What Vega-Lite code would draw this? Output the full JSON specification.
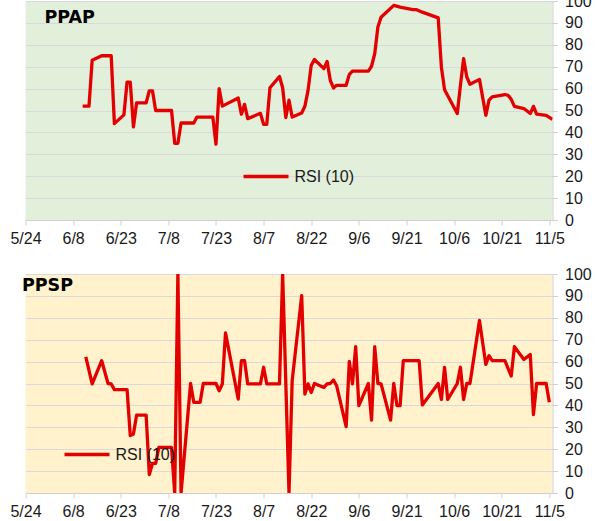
{
  "$schema": "https://vega.github.io/schema/vega-lite/v6.json",
  "padding": {"left": 9.5, "top": -7, "right": 0, "bottom": 0},
  "background": "white",
  "spacing": 54,
  "bounds": "flush",
  "resolve": {"scale": {"color": "independent"}, "legend": {"color": "independent"}},
  "config": {
    "font": "Liberation Sans",
    "view": {"stroke": null},
    "axis": {
      "labelFont": "Liberation Sans",
      "labelFontSize": 16,
      "labelColor": "#1a1a1a",
      "domainColor": "#D0D0D0",
      "tickColor": "#D0D0D0",
      "gridColor": "#D9D9D9",
      "title": null
    },
    "title": {"font": "DejaVu Sans", "fontSize": 17.5, "fontWeight": "bold", "color": "#000", "anchor": "start", "frame": "group", "baseline": "alphabetic"}
  },
  "datasets": {
    "ppap": [
      {"date": "2014-06-11", "rsi": 52}, {"date": "2014-06-13", "rsi": 52}, {"date": "2014-06-14", "rsi": 73},
      {"date": "2014-06-17", "rsi": 75}, {"date": "2014-06-20", "rsi": 75}, {"date": "2014-06-21", "rsi": 44},
      {"date": "2014-06-24", "rsi": 48}, {"date": "2014-06-25", "rsi": 63}, {"date": "2014-06-26", "rsi": 63},
      {"date": "2014-06-27", "rsi": 42.5}, {"date": "2014-06-28", "rsi": 53.5}, {"date": "2014-07-01", "rsi": 53.5},
      {"date": "2014-07-02", "rsi": 59}, {"date": "2014-07-03", "rsi": 59}, {"date": "2014-07-04", "rsi": 50},
      {"date": "2014-07-09", "rsi": 50}, {"date": "2014-07-10", "rsi": 35}, {"date": "2014-07-11", "rsi": 35},
      {"date": "2014-07-12", "rsi": 44.3}, {"date": "2014-07-16", "rsi": 44.3}, {"date": "2014-07-17", "rsi": 47},
      {"date": "2014-07-22", "rsi": 47}, {"date": "2014-07-23", "rsi": 34.6}, {"date": "2014-07-24", "rsi": 60},
      {"date": "2014-07-25", "rsi": 52}, {"date": "2014-07-30", "rsi": 55.7}, {"date": "2014-07-31", "rsi": 48.3},
      {"date": "2014-08-01", "rsi": 52.8}, {"date": "2014-08-02", "rsi": 46.3}, {"date": "2014-08-06", "rsi": 48.7},
      {"date": "2014-08-07", "rsi": 43.7}, {"date": "2014-08-08", "rsi": 43.7}, {"date": "2014-08-09", "rsi": 60.4},
      {"date": "2014-08-12", "rsi": 65.5}, {"date": "2014-08-13", "rsi": 60.4}, {"date": "2014-08-14", "rsi": 46.8},
      {"date": "2014-08-15", "rsi": 54.7}, {"date": "2014-08-16", "rsi": 47}, {"date": "2014-08-19", "rsi": 48.9},
      {"date": "2014-08-20", "rsi": 51.9}, {"date": "2014-08-21", "rsi": 59.2}, {"date": "2014-08-22", "rsi": 70.6},
      {"date": "2014-08-23", "rsi": 73.3}, {"date": "2014-08-26", "rsi": 69.1}, {"date": "2014-08-27", "rsi": 72.4},
      {"date": "2014-08-28", "rsi": 63.8}, {"date": "2014-08-29", "rsi": 60.3}, {"date": "2014-08-30", "rsi": 61.5},
      {"date": "2014-09-02", "rsi": 61.5}, {"date": "2014-09-03", "rsi": 66.5}, {"date": "2014-09-04", "rsi": 68},
      {"date": "2014-09-09", "rsi": 68}, {"date": "2014-09-10", "rsi": 70.2}, {"date": "2014-09-11", "rsi": 75.9},
      {"date": "2014-09-12", "rsi": 88.1}, {"date": "2014-09-13", "rsi": 92.6}, {"date": "2014-09-17", "rsi": 98},
      {"date": "2014-09-19", "rsi": 97.2}, {"date": "2014-09-23", "rsi": 96.1}, {"date": "2014-09-24", "rsi": 96.1},
      {"date": "2014-09-26", "rsi": 94.9}, {"date": "2014-10-01", "rsi": 92.3}, {"date": "2014-10-02", "rsi": 69.8},
      {"date": "2014-10-03", "rsi": 59.5}, {"date": "2014-10-07", "rsi": 48.6}, {"date": "2014-10-08", "rsi": 61.5},
      {"date": "2014-10-09", "rsi": 73.7}, {"date": "2014-10-10", "rsi": 65.3}, {"date": "2014-10-11", "rsi": 62},
      {"date": "2014-10-14", "rsi": 64.2}, {"date": "2014-10-16", "rsi": 47.8}, {"date": "2014-10-17", "rsi": 54.7},
      {"date": "2014-10-18", "rsi": 56.2}, {"date": "2014-10-22", "rsi": 57.3}, {"date": "2014-10-23", "rsi": 56.9},
      {"date": "2014-10-24", "rsi": 55.1}, {"date": "2014-10-25", "rsi": 51.9}, {"date": "2014-10-28", "rsi": 50.9},
      {"date": "2014-10-30", "rsi": 48.6}, {"date": "2014-10-31", "rsi": 51.9}, {"date": "2014-11-01", "rsi": 48.3},
      {"date": "2014-11-04", "rsi": 47.8}, {"date": "2014-11-06", "rsi": 45.9}
    ],
    "ppsp": [
      {"date": "2014-06-12", "rsi": 62.2}, {"date": "2014-06-14", "rsi": 49.8}, {"date": "2014-06-17", "rsi": 60.4},
      {"date": "2014-06-19", "rsi": 50}, {"date": "2014-06-20", "rsi": 49.8}, {"date": "2014-06-21", "rsi": 47.2},
      {"date": "2014-06-25", "rsi": 47.2}, {"date": "2014-06-26", "rsi": 26.2}, {"date": "2014-06-27", "rsi": 26.9},
      {"date": "2014-06-28", "rsi": 35.6}, {"date": "2014-07-01", "rsi": 35.6}, {"date": "2014-07-02", "rsi": 8.4},
      {"date": "2014-07-03", "rsi": 13.5}, {"date": "2014-07-04", "rsi": 13.5}, {"date": "2014-07-05", "rsi": 20.8},
      {"date": "2014-07-09", "rsi": 20.8}, {"date": "2014-07-10", "rsi": 0}, {"date": "2014-07-11", "rsi": 100},
      {"date": "2014-07-12", "rsi": 0}, {"date": "2014-07-15", "rsi": 50}, {"date": "2014-07-16", "rsi": 41.4},
      {"date": "2014-07-18", "rsi": 41.4}, {"date": "2014-07-19", "rsi": 50}, {"date": "2014-07-23", "rsi": 50},
      {"date": "2014-07-24", "rsi": 46.7}, {"date": "2014-07-25", "rsi": 49.8}, {"date": "2014-07-26", "rsi": 73.1},
      {"date": "2014-07-30", "rsi": 42.9}, {"date": "2014-07-31", "rsi": 60.4}, {"date": "2014-08-01", "rsi": 60.4},
      {"date": "2014-08-02", "rsi": 49.8}, {"date": "2014-08-06", "rsi": 49.8}, {"date": "2014-08-07", "rsi": 57.4},
      {"date": "2014-08-08", "rsi": 49.8}, {"date": "2014-08-12", "rsi": 49.8}, {"date": "2014-08-13", "rsi": 100},
      {"date": "2014-08-15", "rsi": 0}, {"date": "2014-08-16", "rsi": 51.3}, {"date": "2014-08-19", "rsi": 90.1},
      {"date": "2014-08-20", "rsi": 45.2}, {"date": "2014-08-21", "rsi": 49.8}, {"date": "2014-08-22", "rsi": 45.9},
      {"date": "2014-08-23", "rsi": 50}, {"date": "2014-08-26", "rsi": 48.2}, {"date": "2014-08-27", "rsi": 49.8},
      {"date": "2014-08-28", "rsi": 50}, {"date": "2014-08-29", "rsi": 51.6}, {"date": "2014-08-30", "rsi": 49},
      {"date": "2014-09-02", "rsi": 30.3}, {"date": "2014-09-03", "rsi": 60.1}, {"date": "2014-09-04", "rsi": 49.8},
      {"date": "2014-09-05", "rsi": 66.8}, {"date": "2014-09-06", "rsi": 39.9}, {"date": "2014-09-09", "rsi": 50},
      {"date": "2014-09-10", "rsi": 33.3}, {"date": "2014-09-11", "rsi": 66.8}, {"date": "2014-09-12", "rsi": 50},
      {"date": "2014-09-13", "rsi": 49.8}, {"date": "2014-09-16", "rsi": 33.3}, {"date": "2014-09-17", "rsi": 50},
      {"date": "2014-09-18", "rsi": 39.9}, {"date": "2014-09-19", "rsi": 39.9}, {"date": "2014-09-20", "rsi": 60.4},
      {"date": "2014-09-25", "rsi": 60.4}, {"date": "2014-09-26", "rsi": 40.2}, {"date": "2014-10-01", "rsi": 50},
      {"date": "2014-10-02", "rsi": 42.7}, {"date": "2014-10-03", "rsi": 57.4}, {"date": "2014-10-04", "rsi": 42.7},
      {"date": "2014-10-07", "rsi": 50}, {"date": "2014-10-08", "rsi": 57.4}, {"date": "2014-10-09", "rsi": 42.7},
      {"date": "2014-10-10", "rsi": 50}, {"date": "2014-10-11", "rsi": 50}, {"date": "2014-10-14", "rsi": 78.8},
      {"date": "2014-10-16", "rsi": 58.7}, {"date": "2014-10-17", "rsi": 62.7}, {"date": "2014-10-18", "rsi": 60.4},
      {"date": "2014-10-22", "rsi": 60.4}, {"date": "2014-10-24", "rsi": 53.4}, {"date": "2014-10-25", "rsi": 66.8},
      {"date": "2014-10-28", "rsi": 61}, {"date": "2014-10-30", "rsi": 63.2}, {"date": "2014-10-31", "rsi": 35.8},
      {"date": "2014-11-01", "rsi": 50}, {"date": "2014-11-04", "rsi": 50}, {"date": "2014-11-05", "rsi": 41.4}
    ]
  },
  "vconcat": [
    {
      "data": {"name": "ppap"},
      "title": {"text": "PPAP", "offset": -33, "dx": 19},
      "width": 527,
      "height": 219,
      "view": {"fill": "#E2EFDA", "stroke": null},
      "mark": {"type": "line", "strokeWidth": 3.3, "strokeJoin": "round", "clip": true},
      "encoding": {
        "x": {
          "field": "date", "type": "temporal",
          "scale": {"type": "utc", "domain": [{"year": 2014, "month": 5, "date": 24, "utc": true}, {"year": 2014, "month": 11, "date": 6, "utc": true}]},
          "axis": {
            "values": [
              {"year": 2014, "month": 5, "date": 24, "utc": true}, {"year": 2014, "month": 6, "date": 8, "utc": true},
              {"year": 2014, "month": 6, "date": 23, "utc": true}, {"year": 2014, "month": 7, "date": 8, "utc": true},
              {"year": 2014, "month": 7, "date": 23, "utc": true}, {"year": 2014, "month": 8, "date": 7, "utc": true},
              {"year": 2014, "month": 8, "date": 22, "utc": true}, {"year": 2014, "month": 9, "date": 6, "utc": true},
              {"year": 2014, "month": 9, "date": 21, "utc": true}, {"year": 2014, "month": 10, "date": 6, "utc": true},
              {"year": 2014, "month": 10, "date": 21, "utc": true}, {"year": 2014, "month": 11, "date": 5, "utc": true}
            ],
            "format": "%-m/%-d", "labelFlush": false, "labelOverlap": false, "grid": false, "tickSize": 5, "labelPadding": 5
          }
        },
        "y": {
          "field": "rsi", "type": "quantitative",
          "scale": {"domain": [0, 100], "nice": false},
          "axis": {"orient": "right", "values": [0, 10, 20, 30, 40, 50, 60, 70, 80, 90, 100], "grid": true, "tickSize": 5, "labelPadding": 7}
        },
        "color": {
          "datum": "RSI (10)",
          "scale": {"range": ["#E30000"]},
          "legend": {"orient": "none", "legendX": 216, "legendY": 151, "title": null, "symbolType": "stroke", "symbolSize": 2025, "symbolStrokeWidth": 3.3, "labelFontSize": 16, "labelFont": "Liberation Sans", "labelColor": "#1a1a1a", "labelOffset": 4, "padding": 0, "zindex": 0}
        }
      }
    },
    {
      "data": {"name": "ppsp"},
      "title": {"text": "PPSP", "offset": -28.5, "dx": -3.6},
      "width": 527,
      "height": 219,
      "view": {"fill": "#FFF2CC", "stroke": null},
      "mark": {"type": "line", "strokeWidth": 3.3, "strokeJoin": "round", "clip": true},
      "encoding": {
        "x": {
          "field": "date", "type": "temporal",
          "scale": {"type": "utc", "domain": [{"year": 2014, "month": 5, "date": 24, "utc": true}, {"year": 2014, "month": 11, "date": 6, "utc": true}]},
          "axis": {
            "values": [
              {"year": 2014, "month": 5, "date": 24, "utc": true}, {"year": 2014, "month": 6, "date": 8, "utc": true},
              {"year": 2014, "month": 6, "date": 23, "utc": true}, {"year": 2014, "month": 7, "date": 8, "utc": true},
              {"year": 2014, "month": 7, "date": 23, "utc": true}, {"year": 2014, "month": 8, "date": 7, "utc": true},
              {"year": 2014, "month": 8, "date": 22, "utc": true}, {"year": 2014, "month": 9, "date": 6, "utc": true},
              {"year": 2014, "month": 9, "date": 21, "utc": true}, {"year": 2014, "month": 10, "date": 6, "utc": true},
              {"year": 2014, "month": 10, "date": 21, "utc": true}, {"year": 2014, "month": 11, "date": 5, "utc": true}
            ],
            "format": "%-m/%-d", "labelFlush": false, "labelOverlap": false, "grid": false, "tickSize": 5, "labelPadding": 5
          }
        },
        "y": {
          "field": "rsi", "type": "quantitative",
          "scale": {"domain": [0, 100], "nice": false},
          "axis": {"orient": "right", "values": [0, 10, 20, 30, 40, 50, 60, 70, 80, 90, 100], "grid": true, "tickSize": 5, "labelPadding": 7}
        },
        "color": {
          "datum": "RSI (10)",
          "scale": {"range": ["#E30000"]},
          "legend": {"orient": "none", "legendX": 37, "legendY": 156, "title": null, "symbolType": "stroke", "symbolSize": 2025, "symbolStrokeWidth": 3.3, "labelFontSize": 16, "labelFont": "Liberation Sans", "labelColor": "#1a1a1a", "labelOffset": 4, "padding": 0, "zindex": 0}
        }
      }
    }
  ]
}
